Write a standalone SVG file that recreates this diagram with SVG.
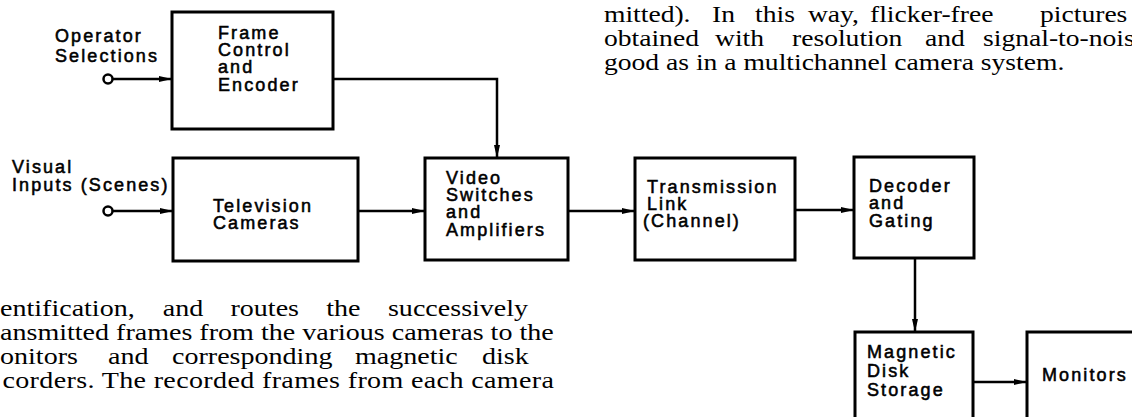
<svg xmlns="http://www.w3.org/2000/svg" width="1132" height="417" viewBox="0 0 1132 417">
<style>
.box{fill:#fff;stroke:#000;stroke-width:3}
.lbl{font-family:"Liberation Sans",Arial,sans-serif;font-size:18px;letter-spacing:2.1px;fill:#000;stroke:#000;stroke-width:0.55}
.body{font-family:"Liberation Serif","Times New Roman",serif;font-size:23px;fill:#000}
.conn{fill:none;stroke:#000;stroke-width:2.5}
.term{fill:#fff;stroke:#000;stroke-width:2.5}
</style>
<defs>
<marker id="ah" markerUnits="userSpaceOnUse" markerWidth="13" markerHeight="8" refX="13" refY="4" orient="auto">
<path d="M0,1 L13,4 L0,7 z" fill="#000"/>
</marker>
</defs>
<rect width="1132" height="417" fill="#fff"/>

<g id="body-text-top" class="body" transform="scale(1.2 1)">
<text y="22"><tspan x="503.3">mitted).</tspan><tspan x="593.3">In</tspan><tspan x="629.2">this</tspan><tspan x="673.3">way,</tspan><tspan x="725">flicker-free</tspan><tspan x="866.7">pictures</tspan></text>
<text y="46"><tspan x="503.3">obtained</tspan><tspan x="595.8">with</tspan><tspan x="660">resolution</tspan><tspan x="770.8">and</tspan><tspan x="819.2">signal-to-noise</tspan></text>
<text x="503.3" y="70">good as in a multichannel camera system.</text>
</g>
<g id="body-text-bottom" class="body" transform="scale(1.22 1)">
<text y="316"><tspan x="0">entification,</tspan><tspan x="133.4">and</tspan><tspan x="188.9">routes</tspan><tspan x="267.4">the</tspan><tspan x="318">successively</tspan></text>
<text x="0" y="340">ansmitted frames from the various cameras to the</text>
<text y="364"><tspan x="0">onitors</tspan><tspan x="88.5">and</tspan><tspan x="141">corresponding</tspan><tspan x="291">magnetic</tspan><tspan x="395.1">disk</tspan></text>
<text x="2" y="388" textLength="452" lengthAdjust="spacing">corders. The recorded frames from each camera</text>
</g>

<g id="connectors">
<line class="conn" x1="112" y1="79" x2="172" y2="79" marker-end="url(#ah)"/>
<line class="conn" x1="112" y1="211" x2="173" y2="211" marker-end="url(#ah)"/>
<polyline class="conn" points="333,79 497,79 497,158" marker-end="url(#ah)"/>
<line class="conn" x1="358" y1="211" x2="425" y2="211" marker-end="url(#ah)"/>
<line class="conn" x1="568" y1="211" x2="635" y2="211" marker-end="url(#ah)"/>
<line class="conn" x1="795" y1="210" x2="854" y2="210" marker-end="url(#ah)"/>
<line class="conn" x1="915" y1="258" x2="915" y2="332" marker-end="url(#ah)"/>
<line class="conn" x1="973" y1="382" x2="1027" y2="382" marker-end="url(#ah)"/>
<circle class="term" cx="108" cy="79" r="4.5"/>
<circle class="term" cx="108" cy="211" r="4.5"/>
</g>

<g id="operator-selections" class="lbl">
<text x="55" y="42">Operator</text>
<text x="55" y="62">Selections</text>
</g>
<g id="visual-inputs" class="lbl">
<text x="12" y="173">Visual</text>
<text x="12" y="191">Inputs (Scenes)</text>
</g>

<g id="frame-control">
<rect class="box" x="172" y="12" width="161" height="117"/>
<g class="lbl"><text x="218" y="39">Frame</text><text x="218" y="56">Control</text><text x="218" y="73">and</text><text x="218" y="91">Encoder</text></g>
</g>
<g id="television-cameras">
<rect class="box" x="173" y="158" width="185" height="103"/>
<g class="lbl"><text x="213" y="212">Television</text><text x="213" y="229">Cameras</text></g>
</g>
<g id="video-switches">
<rect class="box" x="425" y="158" width="143" height="102"/>
<g class="lbl"><text x="446" y="184">Video</text><text x="446" y="201">Switches</text><text x="446" y="218">and</text><text x="446" y="236">Amplifiers</text></g>
</g>
<g id="transmission-link">
<rect class="box" x="635" y="158" width="160" height="102"/>
<g class="lbl"><text x="647" y="193">Transmission</text><text x="647" y="210">Link</text><text x="643" y="227">(Channel)</text></g>
</g>
<g id="decoder-gating">
<rect class="box" x="854" y="157" width="120" height="101"/>
<g class="lbl"><text x="869" y="192">Decoder</text><text x="869" y="209">and</text><text x="869" y="227">Gating</text></g>
</g>
<g id="magnetic-disk">
<rect class="box" x="855" y="332" width="118" height="100"/>
<g class="lbl"><text x="867" y="358">Magnetic</text><text x="867" y="377">Disk</text><text x="867" y="396">Storage</text></g>
</g>
<g id="monitors">
<rect class="box" x="1027" y="332" width="120" height="100"/>
<g class="lbl"><text x="1042" y="381">Monitors</text></g>
</g>
</svg>
